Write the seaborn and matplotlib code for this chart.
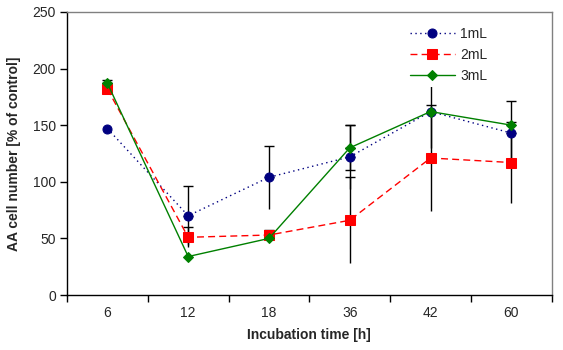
import numpy as np
import pandas as pd
import seaborn as sns
import matplotlib.pyplot as plt

hours = ['6', '12', '18', '36', '42', '60']
ml1 = [147, 70, 104, 122, 162, 143]
ml2 = [182, 51, 53, 66, 121, 117]
ml3 = [187, 34, 50, 130, 162, 150]
err1 = [0, 26, 28, 28, 32, 28]
err2 = [0, 9, 4, 38, 47, 36]
err3 = [3, 0, 0, 20, 0, 0]
series = ['1mL', '2mL', '3mL']

df = pd.DataFrame({
    'hour': hours * 3,
    'value': ml1 + ml2 + ml3,
    'err': err1 + err2 + err3,
    'dose': np.repeat(series, len(hours)),
})

sns.set_style('white')
plt.rcParams['font.family'] = ['Liberation Sans', 'DejaVu Sans']

fig = plt.figure(figsize=(5.63, 3.5), dpi=100)
ax = fig.add_axes([0.119, 0.157, 0.861, 0.809])

colors = {'1mL': '#000080', '2mL': '#ff0000', '3mL': '#008000'}
styles = {'1mL': (0, (1, 2.5)), '2mL': (0, (5, 3)), '3mL': '-'}
markers = {'1mL': 'o', '2mL': 's', '3mL': 'D'}
msize = {'1mL': 6.5, '2mL': 6.5, '3mL': 5.5}

# error bars first so markers sit on top; caps on the plus side only
pos = np.arange(len(hours))
for d in series:
    sub = df[df.dose == d]
    e = sub.err.values
    v = sub.value.values
    m = e > 0
    z = np.zeros(m.sum())
    ax.errorbar(pos[m], v[m], yerr=[z, e[m]], fmt='none', ecolor='black',
                elinewidth=1, capsize=3.5, capthick=1, zorder=1)
    ax.errorbar(pos[m], v[m], yerr=[e[m], z], fmt='none', ecolor='black',
                elinewidth=1, capsize=3.5 if d == '3mL' else 0, capthick=1, zorder=1)

for d in series:
    sub = df[df.dose == d]
    sns.lineplot(data=sub, x='hour', y='value', ax=ax, color=colors[d],
                 marker=markers[d], markersize=msize[d], markeredgecolor=colors[d],
                 linewidth=1, label=d, sort=False, zorder=3)
    ax.lines[-1].set_linestyle(styles[d])

ax.set_xlim(-0.5, 5.5)
ax.set_ylim(0, 250)
ax.set_yticks(range(0, 251, 50))
ax.set_xticks(pos)
ax.set_xticklabels(hours)
ax.set_xticks(np.arange(-0.5, 6, 1), minor=True)
ax.tick_params(axis='x', which='major', length=0, pad=8, labelsize=10)
ax.tick_params(axis='x', which='minor', length=5, direction='out', color='black', width=1)
ax.tick_params(axis='y', length=5, direction='out', color='black', width=1, labelsize=10, pad=3)
ax.xaxis.set_ticks_position('bottom')
ax.yaxis.set_ticks_position('left')

for s in ['left', 'bottom']:
    ax.spines[s].set_color('black')
    ax.spines[s].set_linewidth(1)
for s in ['top', 'right']:
    ax.spines[s].set_color('#808080')
    ax.spines[s].set_linewidth(1)

ax.set_xlabel('Incubation time [h]', fontsize=10, fontweight='bold', labelpad=6)
ax.set_ylabel('AA cell number [% of control]', fontsize=10, fontweight='bold', labelpad=8)

leg = ax.legend(loc='upper right', bbox_to_anchor=(0.89, 0.985), frameon=True,
                fontsize=10, handlelength=3.2, labelspacing=0.5, handletextpad=0.4,
                borderpad=0.3, fancybox=False)
leg.get_frame().set_facecolor('white')
leg.get_frame().set_edgecolor('none')
leg.get_frame().set_alpha(1)
leg.set_zorder(5)
for h, d in zip(leg.get_lines(), series):
    h.set_linestyle(styles[d])

fig.savefig('out.png', dpi=100)
